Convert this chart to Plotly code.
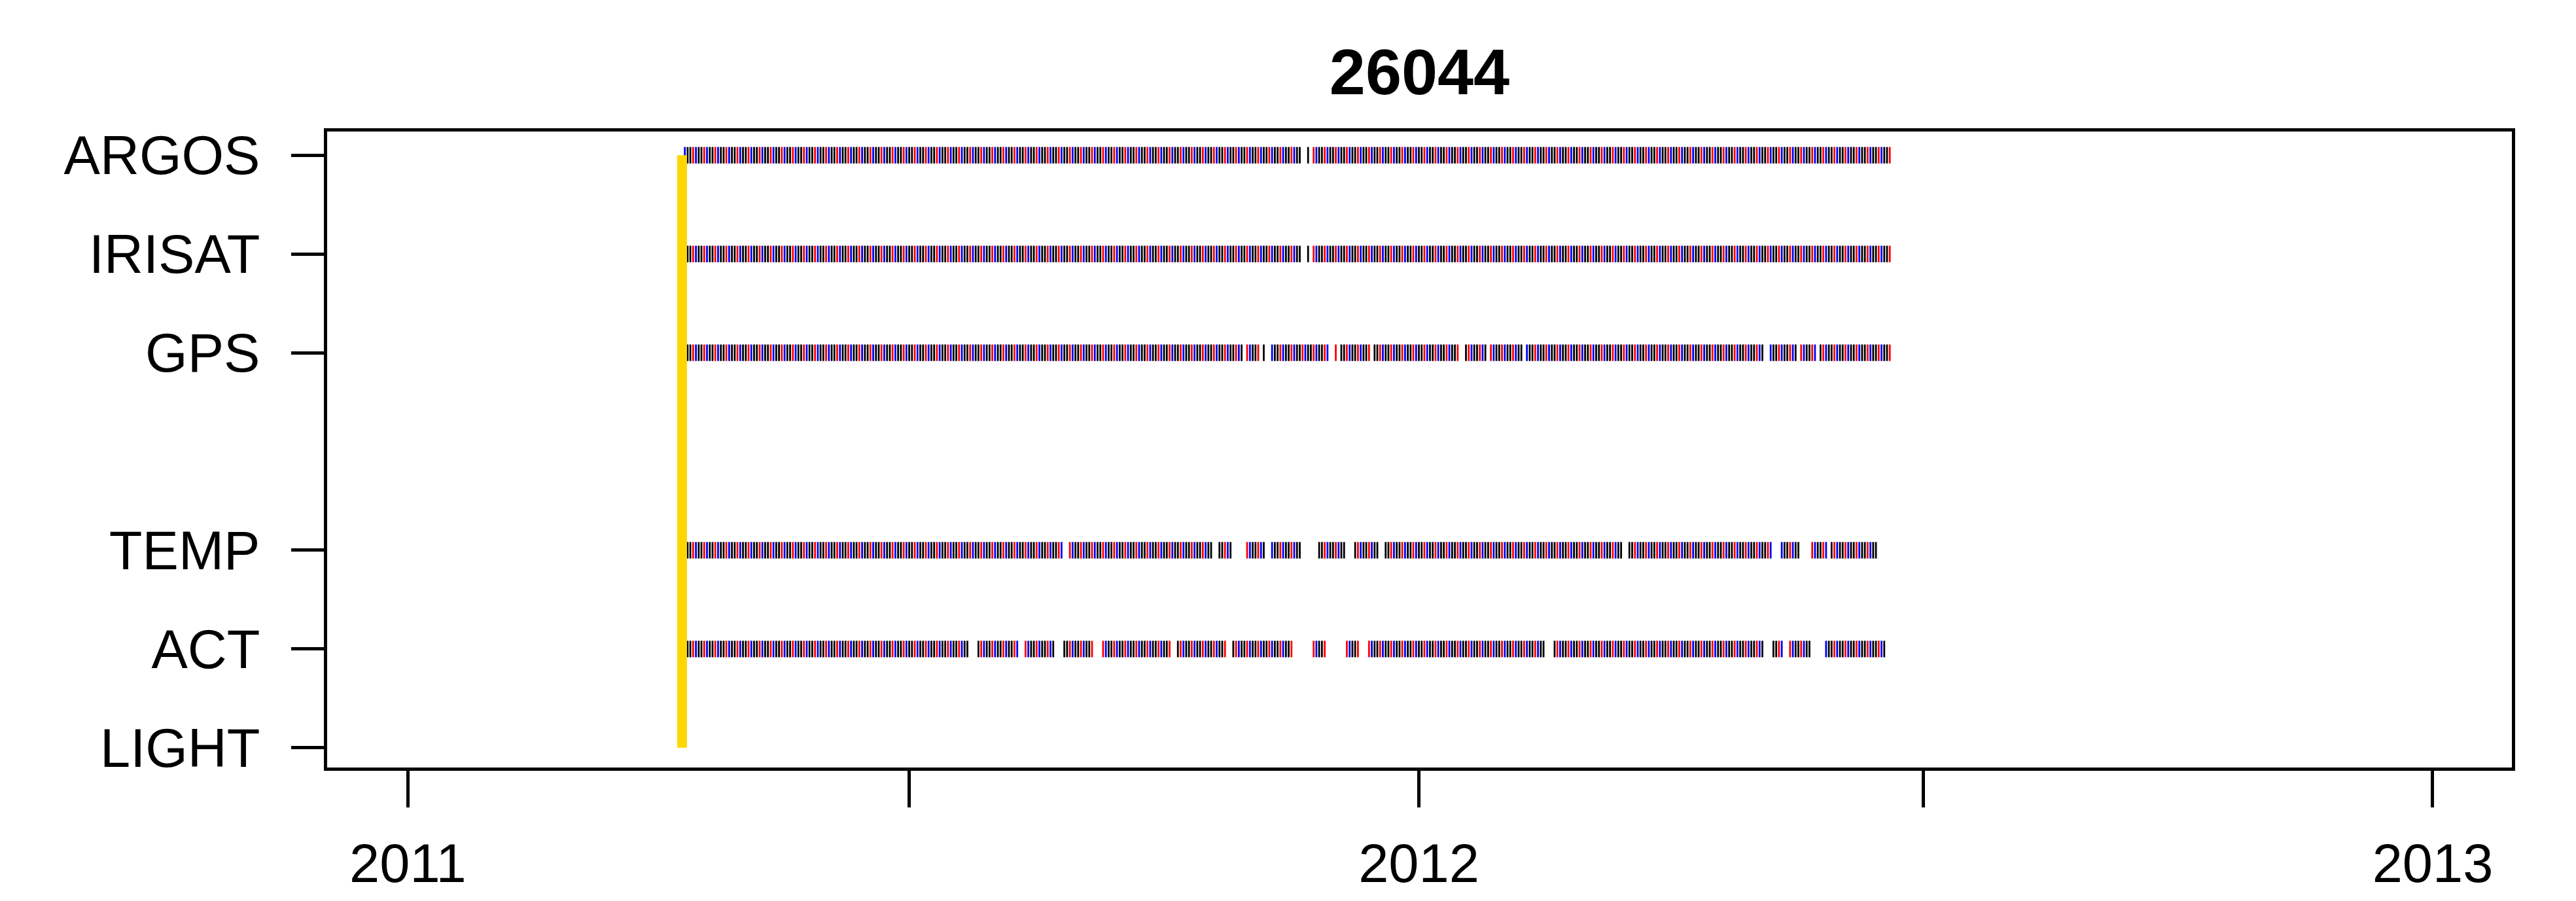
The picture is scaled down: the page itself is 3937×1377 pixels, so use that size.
import pandas as pd
import plotly.graph_objects as go

# ---- data ----
title_text = "26044"

row_labels = ["LIGHT", "ACT", "TEMP", "GPS", "IRISAT", "ARGOS"]
row_levels = [1, 2, 3, 5, 6, 7]

x_tick_dates = ["2011-01-01", "2011-07-01", "2012-01-01", "2012-07-01", "2013-01-01"]
x_tick_labels = ["2011", "", "2012", "", "2013"]

deploy_date = "2011-04-10"

# observation coverage (daily records), start/end date of each run
argos_runs = [("2011-04-11", "2011-11-19"), ("2011-11-22", "2011-11-22"),
              ("2011-11-24", "2012-06-19")]
irisat_runs = [("2011-04-11", "2011-11-19"), ("2011-11-22", "2011-11-22"),
               ("2011-11-24", "2012-06-19")]
gps_runs = [("2011-04-11", "2011-10-29"), ("2011-10-31", "2011-11-04"),
            ("2011-11-06", "2011-11-06"), ("2011-11-09", "2011-11-29"),
            ("2011-12-02", "2011-12-02"), ("2011-12-04", "2011-12-14"),
            ("2011-12-16", "2012-01-15"), ("2012-01-18", "2012-01-25"),
            ("2012-01-27", "2012-02-07"), ("2012-02-09", "2012-05-04"),
            ("2012-05-07", "2012-05-16"), ("2012-05-18", "2012-05-23"),
            ("2012-05-25", "2012-06-19")]
temp_runs = [("2011-04-11", "2011-08-25"), ("2011-08-28", "2011-10-18"),
             ("2011-10-21", "2011-10-25"), ("2011-10-31", "2011-11-06"),
             ("2011-11-09", "2011-11-19"), ("2011-11-26", "2011-12-05"),
             ("2011-12-09", "2011-12-17"), ("2011-12-20", "2012-03-14"),
             ("2012-03-17", "2012-05-07"), ("2012-05-11", "2012-05-17"),
             ("2012-05-22", "2012-05-27"), ("2012-05-29", "2012-06-14")]
act_runs = [("2011-04-11", "2011-07-22"), ("2011-07-26", "2011-08-09"),
            ("2011-08-12", "2011-08-22"), ("2011-08-26", "2011-09-05"),
            ("2011-09-09", "2011-10-03"), ("2011-10-06", "2011-10-23"),
            ("2011-10-26", "2011-11-16"), ("2011-11-24", "2011-11-28"),
            ("2011-12-06", "2011-12-10"), ("2011-12-14", "2012-02-15"),
            ("2012-02-19", "2012-05-04"), ("2012-05-08", "2012-05-11"),
            ("2012-05-14", "2012-05-21"), ("2012-05-27", "2012-06-17")]

sensor_runs = {"ARGOS": argos_runs, "IRISAT": irisat_runs, "GPS": gps_runs,
               "TEMP": temp_runs, "ACT": act_runs}

tick_colors = ["#000000", "#FF0000", "#0000FF", "#000000"]

FONT = "Liberation Sans, Arial, sans-serif"

fig = go.Figure()

level_of = dict(zip(row_labels, row_levels))

for name, runs in sensor_runs.items():
    dates = []
    for s, e in runs:
        dates.extend(pd.date_range(s, e, freq="D"))
    cols = [tick_colors[d.toordinal() % len(tick_colors)] for d in dates]
    fig.add_trace(go.Scatter(
        x=dates, y=[level_of[name]] * len(dates), mode="markers",
        marker=dict(symbol="line-ns", size=18,
                    line=dict(color=cols, width=2.8)),
        showlegend=False, hoverinfo="skip"))

# deployment line
fig.add_trace(go.Scatter(
    x=[deploy_date, deploy_date], y=[min(row_levels), max(row_levels)],
    mode="lines", line=dict(color="#FFD700", width=15),
    showlegend=False, hoverinfo="skip"))

fig.update_layout(
    width=3937, height=1377,
    paper_bgcolor="white", plot_bgcolor="white",
    margin=dict(l=492, r=106, t=193, b=212, autoexpand=False),
    title=dict(text="<b>" + title_text + "</b>", x=0.5, xref="paper",
               y=1 - 101 / 1377, yref="container", xanchor="center",
               yanchor="middle", font=dict(family=FONT, size=99, color="black")),
    font=dict(family=FONT, color="black"),
)

fig.update_xaxes(
    type="date", range=["2010-12-02 21:00", "2013-01-29 14:00"],
    tickvals=x_tick_dates, ticktext=x_tick_labels,
    showgrid=False, zeroline=False, automargin=False,
    showline=True, linecolor="black", linewidth=5, mirror=True,
    ticks="outside", ticklen=56, tickwidth=5, tickcolor="black",
    tickfont=dict(family=FONT, size=83, color="black"),
    ticklabelstandoff=14,
)
fig.update_yaxes(
    range=[0.80, 7.24], tickvals=row_levels, ticktext=row_labels,
    showgrid=False, zeroline=False, automargin=False,
    showline=True, linecolor="black", linewidth=5, mirror=True,
    ticks="outside", ticklen=50, tickwidth=5, tickcolor="black",
    tickfont=dict(family=FONT, size=83, color="black"),
    ticklabelstandoff=31,
)

fig.write_html("out.html", config={"displayModeBar": False})
